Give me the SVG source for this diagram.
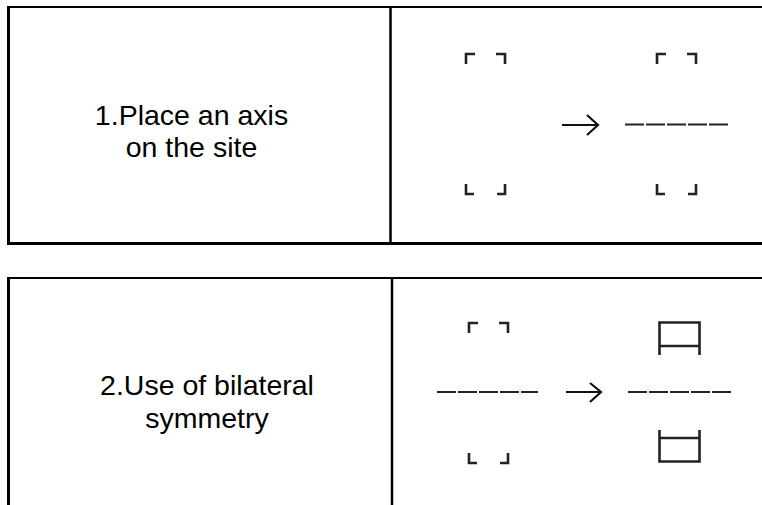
<svg xmlns="http://www.w3.org/2000/svg" xmlns:xlink="http://www.w3.org/1999/xlink" width="762" height="505" viewBox="0 0 762 505">
  <style>
    .label { font-family: "Liberation Sans", Arial, sans-serif; font-size: 28.5px; fill: #000; text-anchor: middle; }
    .border { stroke: #000; fill: none; }
    .sym { stroke: #222; stroke-width: 2.6; fill: none; stroke-linecap: butt; }
    .axis { stroke: #222; stroke-width: 2; fill: none; stroke-dasharray: 19 2; }
    .arrow { stroke: #111; stroke-width: 2.2; fill: none; stroke-linejoin: miter; }
  </style>
  <defs>
    <g id="corners" class="sym">
      <path d="M0,10 V0 H9"/>
      <path d="M30,0 H39 V10"/>
      <path d="M0,130 V140 H8"/>
      <path d="M31,140 H39 V130"/>
    </g>
  </defs>
  <rect width="762" height="505" fill="#fff"/>

  <g id="panel1">
    <g id="panel1-frame">
      <line class="border" x1="7" y1="7" x2="762" y2="7" stroke-width="2"/>
      <line class="border" x1="8.5" y1="6" x2="8.5" y2="245" stroke-width="3"/>
      <line class="border" x1="7" y1="243.5" x2="762" y2="243.5" stroke-width="3"/>
      <line class="border" x1="390.5" y1="7" x2="390.5" y2="243" stroke-width="2.5" stroke="#222"/>
    </g>
    <g id="panel1-label">
      <text class="label" x="191.5" y="125">1.Place an axis</text>
      <text class="label" x="191.5" y="156.5">on the site</text>
    </g>
    <g id="panel1-before">
      <use xlink:href="#corners" transform="translate(466,54)"/>
    </g>
    <g id="panel1-after">
      <use xlink:href="#corners" transform="translate(657,54)"/>
      <line class="axis" x1="625" y1="124.5" x2="728" y2="124.5"/>
    </g>
  </g>

  <g id="panel2">
    <g id="panel2-frame">
      <line class="border" x1="7" y1="278" x2="762" y2="278" stroke-width="2" stroke="#333"/>
      <line class="border" x1="8.5" y1="277" x2="8.5" y2="505" stroke-width="3"/>
      <line class="border" x1="392" y1="278" x2="392" y2="505" stroke-width="2.5" stroke="#222"/>
    </g>
    <g id="panel2-label">
      <text class="label" x="207" y="395">2.Use of bilateral</text>
      <text class="label" x="207" y="428">symmetry</text>
    </g>
    <g id="panel2-before">
      <use xlink:href="#corners" transform="translate(469,323)"/>
      <line class="axis" x1="437" y1="392" x2="538" y2="392"/>
    </g>
    <g id="panel2-after">
      <line class="axis" x1="628" y1="392" x2="731" y2="392"/>
      <path class="sym" d="M659.5,355 V322.5 H699.5 V355 M659.5,346 H699.5"/>
      <path class="sym" d="M659.5,430 V461.5 H699.5 V430 M659.5,438 H699.5"/>
    </g>
  </g>

  <g id="connectors">
    <path class="arrow" d="M562,125 H597 M587,115 L598,125 L587,135"/>
    <path class="arrow" d="M566,392 H600 M590,383 L601,392 L590,402"/>
  </g>
</svg>
